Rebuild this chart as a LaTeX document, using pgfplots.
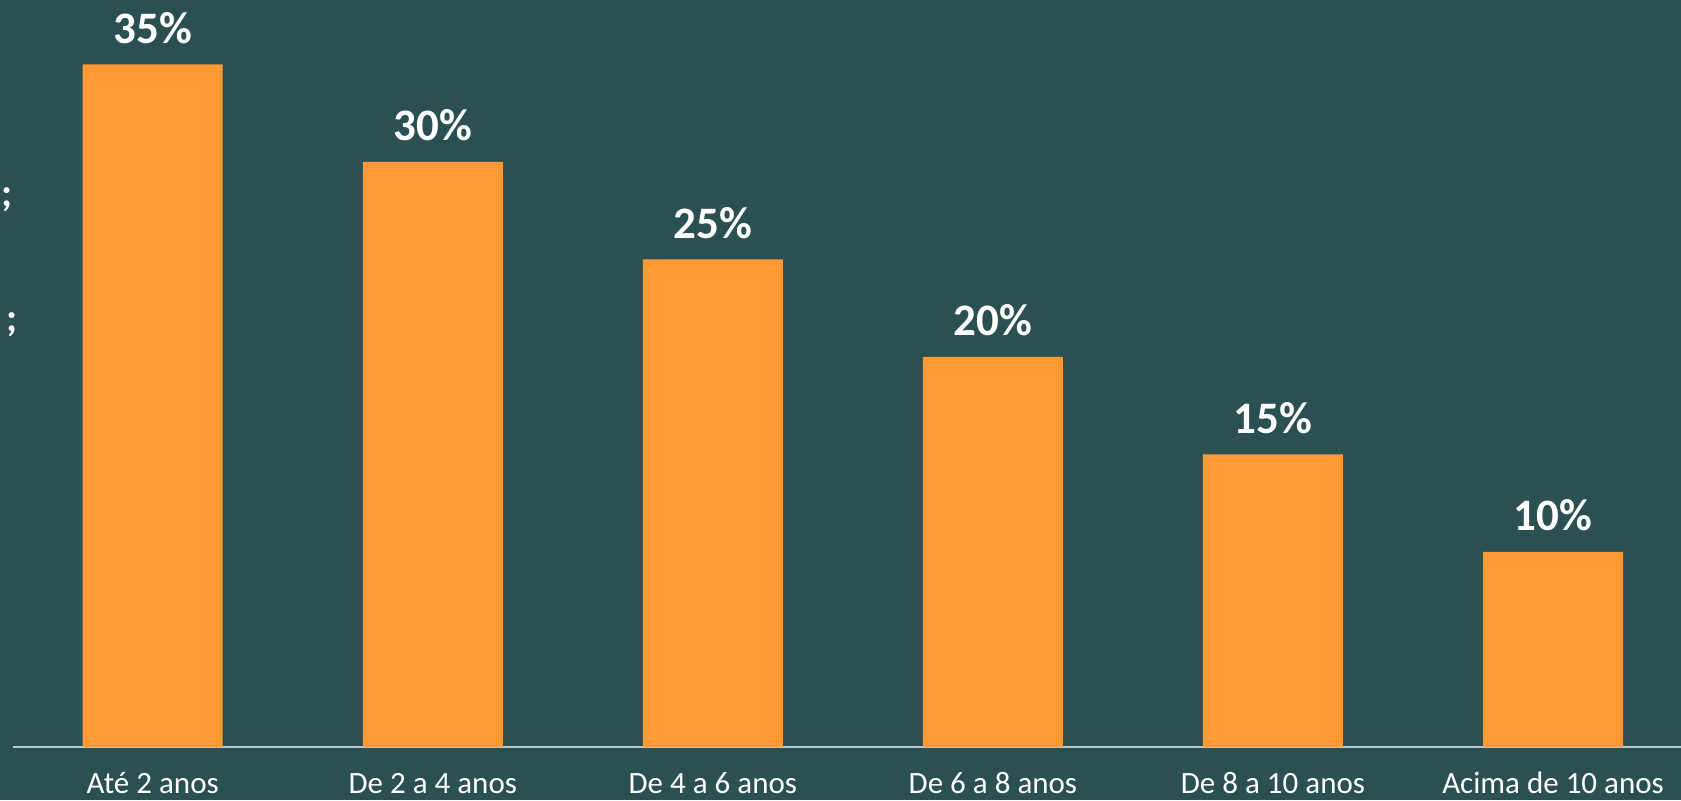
\documentclass[border=0pt]{standalone}
\usepackage{fontspec}
\setmainfont{Carlito}
\usepackage{pgfplots}
\pgfplotsset{compat=1.18}
\definecolor{bg}{HTML}{2A5052}
\definecolor{bar}{HTML}{FE9934}
\definecolor{axline}{HTML}{BFC9C9}
\begin{document}
\begin{tikzpicture}
\fill[bg] (-6.35pt,-26.5pt) rectangle (834.15pt,373.5pt);
\begin{axis}[
  at={(0,0)}, anchor=south west,
  scale only axis,
  width=834.15pt, height=373.5pt,
  xmin=-0.5, xmax=5.457,
  ymin=0, ymax=38.3,
  axis x line*=bottom,
  axis y line=none,
  x axis line style={draw=axline, line width=1pt, -},
  xtick={0,1,2,3,4,5},
  xticklabels={Até 2 anos, De 2 a 4 anos, De 4 a 6 anos, De 6 a 8 anos, De 8 a 10 anos, Acima de 10 anos},
  major tick length=0pt,
  xticklabel style={font=\fontsize{15.5}{18}\selectfont, text=white, anchor=base, yshift=-23pt, inner sep=0pt},
  ybar, bar width=70pt,
  nodes near coords={\pgfmathprintnumber[assume math mode=true]{\pgfplotspointmeta}\%},
  nodes near coords style={font=\bfseries\fontsize{22.5}{26}\selectfont, text=white, anchor=base, yshift=10.5pt, inner sep=0pt},
  point meta=y,
  clip=false,
]
\addplot[fill=bar, draw=none] coordinates {(0,35) (1,30) (2,25) (3,20) (4,15) (5,10)};
\end{axis}
\node[text=white, font=\bfseries\fontsize{20}{24}\selectfont, inner sep=0pt, anchor=west] at (-5.6pt,273.5pt) {;};
\node[text=white, font=\bfseries\fontsize{20}{24}\selectfont, inner sep=0pt, anchor=west] at (-3.4pt,211pt) {;};
\pgfresetboundingbox
\path[use as bounding box] (-6.35pt,-26.5pt) rectangle (834.15pt,373.5pt);
\end{tikzpicture}
\end{document}
